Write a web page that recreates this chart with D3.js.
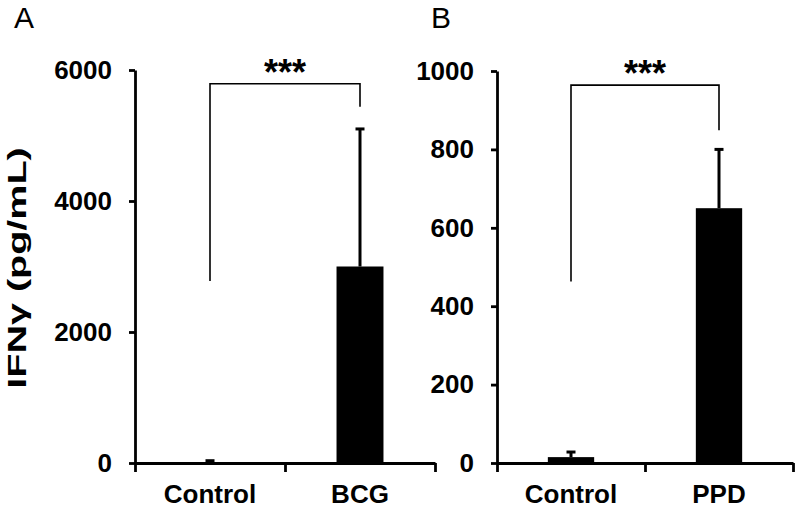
<!DOCTYPE html>
<html>

<head>
  <script src="https://d3js.org/d3.v7.min.js"></script>
  <style>
    body {
      margin: 0;
      background: #fff;
    }

    svg {
      font-family: "Liberation Sans", Arial, sans-serif;
    }

    .tick-label {
      font-size: 26px;
      font-weight: bold;
    }

    .cat-label {
      font-size: 26px;
      font-weight: bold;
    }

    .panel-letter {
      font-size: 30px;
    }

    .stars {
      font-size: 36px;
      font-weight: bold;
    }

    .axis-title {
      font-size: 26px;
      font-weight: bold;
    }
  </style>
</head>

<body>
  <div id="chart"></div>

  <script>
    // panel A: BCG stimulation
    const groupsA = ["Control", "BCG"];
    const meanA = [15, 3000];
    const upperA = [35, 5100];
    const ticksA = [0, 2000, 4000, 6000];
    // significance bracket, in data units: top, left leg end, right leg end
    const bracketA = [5790, 2780, 5440];

    // panel B: PPD stimulation
    const groupsB = ["Control", "PPD"];
    const meanB = [15, 650];
    const upperB = [28, 800];
    const ticksB = [0, 200, 400, 600, 800, 1000];
    const bracketB = [964, 463, 849];

    const width = 800, height = 509;

    const svg = d3.select("#chart")
      .append("svg")
      .attr("width", width)
      .attr("height", height);

    function drawPanel(opts) {
      const x = d3.scaleBand()
        .domain(opts.groups)
        .range(opts.xRange)
        .paddingInner(0.687)
        .paddingOuter(0.3435);

      const y = d3.scaleLinear()
        .domain([0, d3.max(opts.ticks)])
        .range(opts.yRange);

      const g = svg.append("g");

      // bars
      g.selectAll("rect.bar")
        .data(opts.groups)
        .enter().append("rect")
        .attr("class", "bar")
        .attr("x", d => x(d))
        .attr("width", x.bandwidth())
        .attr("y", (d, i) => y(opts.mean[i]))
        .attr("height", (d, i) => y(0) - y(opts.mean[i]))
        .attr("fill", "#000");

      // upper error bars
      const cx = d => x(d) + x.bandwidth() / 2;
      g.selectAll("line.err")
        .data(opts.groups)
        .enter().append("line")
        .attr("x1", cx).attr("x2", cx)
        .attr("y1", (d, i) => y(opts.mean[i]))
        .attr("y2", (d, i) => y(opts.upper[i]))
        .attr("stroke", "#000")
        .attr("stroke-width", 3);
      g.selectAll("line.cap")
        .data(opts.groups)
        .enter().append("line")
        .attr("x1", d => cx(d) - 4.5).attr("x2", d => cx(d) + 4.5)
        .attr("y1", (d, i) => y(opts.upper[i]))
        .attr("y2", (d, i) => y(opts.upper[i]))
        .attr("stroke", "#000")
        .attr("stroke-width", 3);

      // y axis
      const yAxis = g.append("g")
        .attr("transform", `translate(${opts.xRange[0]},0)`)
        .call(d3.axisLeft(y).tickValues(opts.ticks).tickFormat(d3.format("d"))
          .tickSize(6).tickSizeOuter(0).tickPadding(17));
      yAxis.select(".domain").attr("stroke-width", 2.8);
      yAxis.selectAll(".tick line").attr("stroke-width", 2.8);
      yAxis.selectAll(".tick text")
        .attr("class", "tick-label")
        .attr("fill", "#000");

      // x axis: ticks at category boundaries
      const xLin = d3.scaleLinear().domain([0, opts.groups.length]).range(opts.xRange);
      const xAxis = g.append("g")
        .attr("transform", `translate(0,${y(0)})`)
        .call(d3.axisBottom(xLin).ticks(opts.groups.length).tickSize(9).tickSizeOuter(0).tickFormat(""));
      xAxis.select(".domain").attr("stroke-width", 2.8);
      xAxis.selectAll(".tick line").attr("stroke-width", 2.8);

      g.selectAll("text.cat")
        .data(opts.groups)
        .enter().append("text")
        .attr("class", "cat-label")
        .attr("x", cx)
        .attr("y", 503)
        .attr("text-anchor", "middle")
        .text(d => d);

      // significance bracket
      const b = opts.bracket;
      const x0 = cx(opts.groups[0]), x1 = cx(opts.groups[1]);
      g.append("path")
        .attr("d", `M${x0},${y(b[1])}V${y(b[0])}H${x1}V${y(b[2])}`)
        .attr("fill", "none")
        .attr("stroke", "#000")
        .attr("stroke-width", 1.6);
      g.append("text")
        .attr("class", "stars")
        .attr("x", (x0 + x1) / 2)
        .attr("y", y(b[0]) + 1)
        .attr("text-anchor", "middle")
        .text("***");

      // panel letter
      g.append("text")
        .attr("class", "panel-letter")
        .attr("x", opts.letterX)
        .attr("y", 28)
        .text(opts.letter);
    }

    drawPanel({
      groups: groupsA, mean: meanA, upper: upperA, ticks: ticksA, bracket: bracketA,
      xRange: [135, 435], yRange: [463, 70], letter: "A", letterX: 14
    });

    drawPanel({
      groups: groupsB, mean: meanB, upper: upperB, ticks: ticksB, bracket: bracketB,
      xRange: [497, 793], yRange: [463, 71], letter: "B", letterX: 431
    });

    // y axis title (stretched along its length, as in the original figure)
    svg.append("text")
      .attr("class", "axis-title")
      .attr("transform", "translate(26,268) rotate(-90) scale(1.52,1)")
      .attr("text-anchor", "middle")
      .text("IFNγ (pg/mL)");
  </script>
</body>

</html>
